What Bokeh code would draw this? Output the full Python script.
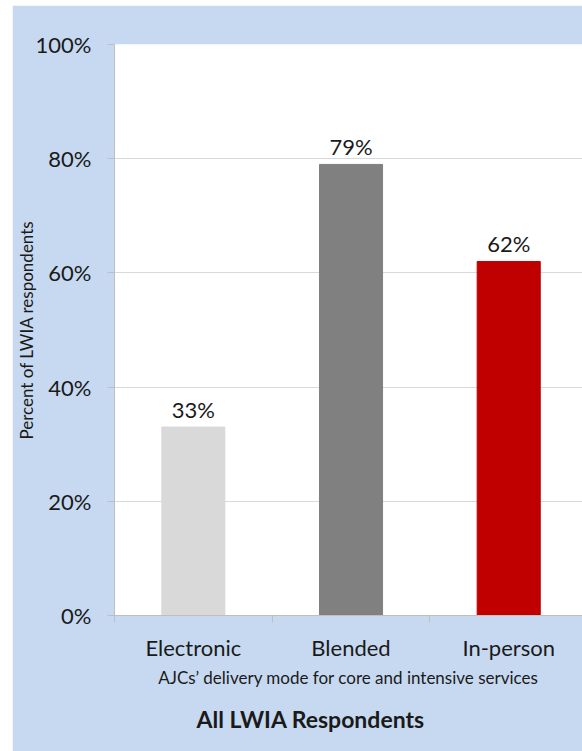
from bokeh.plotting import figure
from bokeh.models import FixedTicker, Range1d, Title, ColumnDataSource, Spacer
from bokeh.layouts import row, column
from bokeh.core.properties import value
from bokeh.embed import file_html
from bokeh.resources import INLINE

categories = ["Electronic", "Blended", "In-person"]
percents = [33, 79, 62]
bar_colors = ["#d9d9d9", "#808080", "#c00000"]
value_labels = ["33%", "79%", "62%"]
y_ticks = [0, 20, 40, 60, 80, 100]
y_tick_labels = ["0%", "20%", "40%", "60%", "80%", "100%"]
x_title = "AJCs\u2019 delivery mode for core and intensive services"
y_title = "Percent of LWIA respondents"
chart_title = "All LWIA Respondents"

FONT = "Lato"
TEXT = "#1a1a1a"
BLUE = "#c6d9f0"
AXIS = "#bfbfbf"

positions = [i + 0.5 for i in range(len(categories))]
boundaries = [float(i) for i in range(len(categories) + 1)]

src = ColumnDataSource(dict(x=positions, top=percents, color=bar_colors, label=value_labels))

p = figure(width=570, height=746, x_range=Range1d(0, 2.968), y_range=Range1d(0, 100),
           output_backend="svg", toolbar_location=None,
           min_border_left=101, min_border_right=0, min_border_top=39, min_border_bottom=136,
           background_fill_color="white", border_fill_color=BLUE, outline_line_color=None)

p.vbar(x="x", top="top", width=0.4, bottom=0, color="color", source=src)
p.text(x="x", y="top", text="label", source=src, text_align="center", text_baseline="bottom",
       y_offset=-4, text_font=value(FONT), text_font_size="22px", text_color=TEXT)

p.xgrid.visible = False
p.ygrid.grid_line_color = "#d9d9d9"
p.ygrid.ticker = FixedTicker(ticks=y_ticks)

xa = p.xaxis[0]
xa.ticker = FixedTicker(ticks=positions, minor_ticks=boundaries)
xa.major_label_overrides = {pos: c for pos, c in zip(positions, categories)}
xa.major_tick_out = 0
xa.major_tick_in = 0
xa.minor_tick_out = 7
xa.minor_tick_in = 0
xa.minor_tick_line_color = AXIS
xa.axis_line_color = AXIS
xa.major_label_standoff = 11
xa.major_label_text_font = FONT
xa.major_label_text_font_size = "22px"
xa.major_label_text_color = TEXT
xa.axis_label = x_title
xa.axis_label_text_font = FONT
xa.axis_label_text_font_size = "17px"
xa.axis_label_text_font_style = "normal"
xa.axis_label_text_color = TEXT
xa.axis_label_standoff = 3

ya = p.yaxis[0]
ya.ticker = FixedTicker(ticks=y_ticks)
ya.major_label_overrides = {t: l for t, l in zip(y_ticks, y_tick_labels)}
ya.major_tick_out = 7
ya.major_tick_in = 0
ya.major_tick_line_color = AXIS
ya.minor_tick_line_color = None
ya.axis_line_color = AXIS
ya.major_label_standoff = 16
ya.major_label_text_font = FONT
ya.major_label_text_font_size = "22px"
ya.major_label_text_color = TEXT
ya.axis_label = y_title
ya.axis_label_text_font = FONT
ya.axis_label_text_font_size = "17px"
ya.axis_label_text_font_style = "normal"
ya.axis_label_text_color = TEXT
ya.axis_label_standoff = -4

t = Title(text=chart_title, align="left", offset=82, text_font=FONT, text_font_size="23px",
          text_font_style="bold", text_color=TEXT, standoff=25)
p.add_layout(t, "below")

layout = row(Spacer(width=12, height=746), p)
page = column(Spacer(width=582, height=5), layout)
open("out.html", "w").write(file_html(page, INLINE))
